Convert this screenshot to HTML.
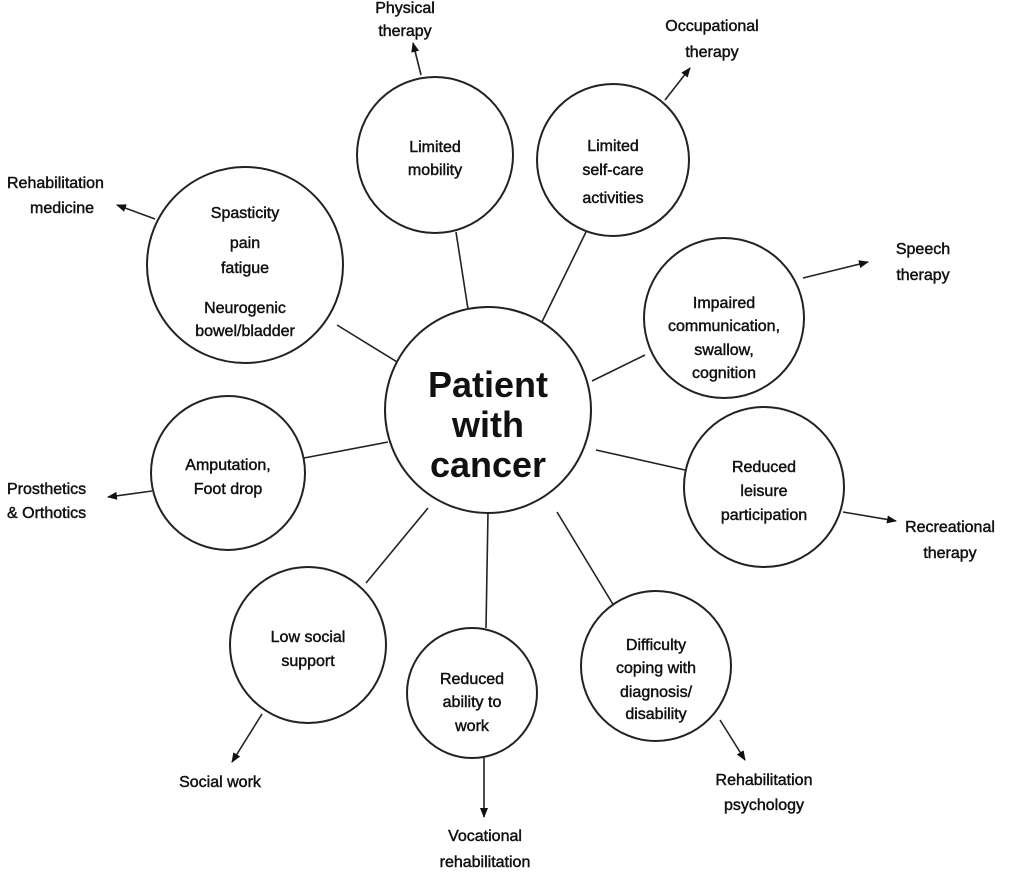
<!DOCTYPE html>
<html><head><meta charset="utf-8"><style>
html,body{margin:0;padding:0;background:#fff;}
svg text{font-family:"Liberation Sans",sans-serif;font-size:16px;fill:#111;stroke:#111;stroke-width:0.45px;text-anchor:middle;}
</style></head><body>
<svg width="1013" height="882" viewBox="0 0 1013 882" xmlns="http://www.w3.org/2000/svg">
<defs><marker id="a" markerWidth="10" markerHeight="8" refX="9" refY="4" orient="auto" markerUnits="userSpaceOnUse"><path d="M0,0 L10,4 L0,8 z" fill="#111"/></marker></defs>
<g stroke="#222" stroke-width="1.6" fill="none">
<line x1="456" y1="232" x2="470" y2="322"/>
<line x1="586" y1="232" x2="538" y2="330"/>
<line x1="337" y1="325" x2="402" y2="365"/>
<line x1="645" y1="355" x2="592" y2="381"/>
<line x1="304" y1="458" x2="388" y2="442"/>
<line x1="685" y1="470" x2="596" y2="450"/>
<line x1="366" y1="583" x2="428" y2="508"/>
<line x1="488" y1="512" x2="486" y2="628"/>
<line x1="614" y1="606" x2="557" y2="512"/>
<g marker-end="url(#a)">
<line x1="421" y1="75" x2="413" y2="43"/>
<line x1="665" y1="100" x2="690" y2="68"/>
<line x1="155" y1="219" x2="117" y2="205"/>
<line x1="803" y1="278" x2="868" y2="262"/>
<line x1="152" y1="491" x2="108" y2="497"/>
<line x1="843" y1="512" x2="896" y2="521"/>
<line x1="262" y1="714" x2="232" y2="762"/>
<line x1="484" y1="758" x2="484" y2="817"/>
<line x1="720" y1="720" x2="745" y2="760"/>
</g>
<g fill="#fff" stroke-width="2">
<circle cx="488" cy="410" r="103"/>
<circle cx="435" cy="155" r="78"/>
<circle cx="613" cy="160" r="76"/>
<circle cx="245" cy="265" r="98"/>
<circle cx="724" cy="318" r="80"/>
<circle cx="228" cy="473" r="77"/>
<circle cx="764" cy="487" r="80"/>
<circle cx="308" cy="645" r="78"/>
<circle cx="472" cy="693" r="65"/>
<circle cx="656" cy="666" r="75"/>
</g></g>
<text x="488" y="397" style="font-size:36px;font-weight:bold;stroke-width:0">Patient</text><text x="488" y="437" style="font-size:36px;font-weight:bold;stroke-width:0">with</text><text x="488" y="477" style="font-size:36px;font-weight:bold;stroke-width:0">cancer</text>
<text x="435" y="152">Limited</text><text x="435" y="175">mobility</text>
<text x="613" y="151">Limited</text><text x="613" y="175">self-care</text><text x="613" y="203">activities</text>
<text x="245" y="218">Spasticity</text><text x="245" y="248">pain</text><text x="245" y="273">fatigue</text><text x="245" y="313">Neurogenic</text><text x="245" y="336">bowel/bladder</text>
<text x="724" y="308">Impaired</text><text x="724" y="331">communication,</text><text x="724" y="355">swallow,</text><text x="724" y="378">cognition</text>
<text x="228" y="470">Amputation,</text><text x="228" y="494">Foot drop</text>
<text x="764" y="472">Reduced</text><text x="764" y="496">leisure</text><text x="764" y="520">participation</text>
<text x="308" y="642">Low social</text><text x="308" y="666">support</text>
<text x="472" y="684">Reduced</text><text x="472" y="707">ability to</text><text x="472" y="731">work</text>
<text x="656" y="650">Difficulty</text><text x="656" y="673">coping with</text><text x="656" y="697">diagnosis/</text><text x="656" y="719">disability</text>
<text x="405" y="13">Physical</text><text x="405" y="36">therapy</text>
<text x="712" y="31">Occupational</text><text x="712" y="57">therapy</text>
<text x="7" y="188" style="text-anchor:start">Rehabilitation</text><text x="30" y="213" style="text-anchor:start">medicine</text>
<text x="923" y="254">Speech</text><text x="923" y="280">therapy</text>
<text x="7" y="494" style="text-anchor:start">Prosthetics</text><text x="7" y="518" style="text-anchor:start">&amp; Orthotics</text>
<text x="950" y="532">Recreational</text><text x="950" y="558">therapy</text>
<text x="220" y="787">Social work</text>
<text x="485" y="841">Vocational</text><text x="485" y="867">rehabilitation</text>
<text x="764" y="785">Rehabilitation</text><text x="764" y="810">psychology</text>
</svg>
</body></html>
